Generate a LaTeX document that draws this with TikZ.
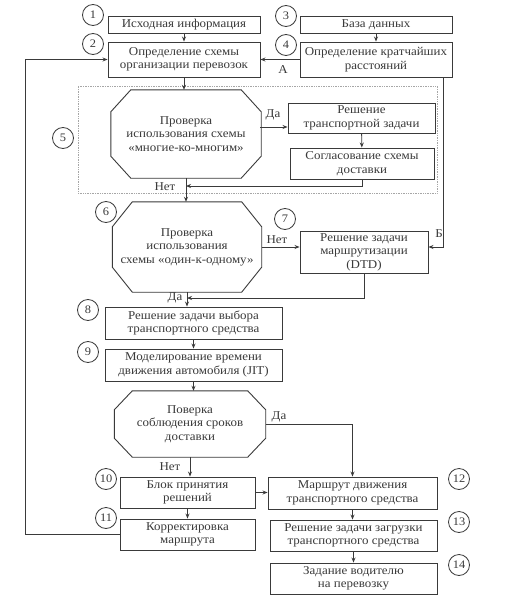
\documentclass[tikz,border=0pt]{standalone}
\usepackage{fontspec}
\setmainfont[FakeStretch=1.08]{Liberation Serif}
\usetikzlibrary{arrows.meta,calc}
\definecolor{ink}{HTML}{3A3A3A}
\newcommand\octdraw[3]{%
  \draw[line] ($(#1.north west)+(#2,0)$) -- ($(#1.north east)+(-#2,0)$) -- ($(#1.north east)+(0,#3)$) -- ($(#1.south east)+(0,-#3)$) -- ($(#1.south east)+(-#2,0)$) -- ($(#1.south west)+(#2,0)$) -- ($(#1.south west)+(0,-#3)$) -- ($(#1.north west)+(0,#3)$) -- cycle;}
\begin{document}
\begin{tikzpicture}[x=1pt,y=-1pt,
  every node/.style={font=\fontsize{12}{13.5}\selectfont, text=ink},
  line/.style={draw=ink, line width=0.9pt},
  arr/.style={line, -{Stealth[length=5pt,width=4pt]}},
  box/.style={draw=ink, line width=0.9pt, align=center, inner sep=1pt},
  oct/.style={align=center, inner sep=1pt},
  num/.style={circle, draw=ink, line width=0.8pt, minimum size=21pt, inner sep=0pt, font=\fontsize{11.5}{12}\selectfont},
  lbl/.style={inner sep=0pt}
]
\useasboundingbox[fill=white] (0,0) rectangle (509,602);
% dotted group 5
\node[draw=gray!70, densely dotted, line width=0.7pt, minimum width=359pt, minimum height=107pt] (g5) at (257.5,139.5) {};
% boxes
\node[box, minimum width=152pt, minimum height=17pt] (b1) at (184,24.5) {Исходная информация};
\node[box, minimum width=152pt, minimum height=17pt] (b3) at (376,24.5) {База данных};
\node[box, minimum width=152pt, minimum height=35pt] (b2) at (184,59.5) {Определение схемы\\организации перевозок};
\node[box, minimum width=152pt, minimum height=35pt] (b4) at (376,59.5) {Определение кратчайших\\расстояний};
\node[oct, minimum width=150pt, minimum height=88pt] (o1) at (186,134) {Проверка\\использования схемы\\«многие-ко-многим»};
\octdraw{o1}{20}{22}
\node[box, minimum width=147pt, minimum height=30pt] (r1) at (361.5,118) {Решение\\транспортной задачи};
\node[box, minimum width=144pt, minimum height=31pt] (s1) at (362,163.5) {Согласование схемы\\доставки};
\node[oct, minimum width=149pt, minimum height=90pt] (o2) at (187,247) {Проверка\\использования\\схемы «один-к-одному»};
\octdraw{o2}{20}{25}
\node[box, minimum width=128pt, minimum height=42pt] (b7) at (364,252) {Решение задачи\\маршрутизации\\(DTD)};
\node[box, minimum width=177pt, minimum height=32pt] (b8) at (193.5,323) {Решение задачи выбора\\транспортного средства};
\node[box, minimum width=177pt, minimum height=32pt] (b9) at (193.5,365) {Моделирование времени\\движения автомобиля (JIT)};
\node[oct, minimum width=151pt, minimum height=66pt] (o3) at (190,424) {Поверка\\соблюдения сроков\\доставки};
\octdraw{o3}{18}{19}
\node[box, minimum width=135pt, minimum height=31pt] (b10) at (187.5,492.5) {Блок принятия\\решений};
\node[box, minimum width=169pt, minimum height=32pt] (b12) at (352.5,493) {Маршрут движения\\транспортного средства};
\node[box, minimum width=135pt, minimum height=31pt] (b11) at (187.5,534.5) {Корректировка\\маршрута};
\node[box, minimum width=167pt, minimum height=31pt] (b13) at (353.5,535.5) {Решение задачи загрузки\\транспортного средства};
\node[box, minimum width=167pt, minimum height=31pt] (b14) at (353.5,578.5) {Задание водителю\\на перевозку};
% number circles
\node[num] (c1) at (93,15) {1};
\node[num] (c2) at (93,44) {2};
\node[num] (c3) at (286,16) {3};
\node[num] (c4) at (286,45) {4};
\node[num] (c5) at (63,138) {5};
\node[num] (c6) at (106,212) {6};
\node[num] (c7) at (285,219) {7};
\node[num] (c8) at (88,310) {8};
\node[num] (c9) at (88,352) {9};
\node[num] (c10) at (106,479) {10};
\node[num] (c11) at (106,518) {11};
\node[num] (c12) at (459,479) {12};
\node[num] (c13) at (459,522) {13};
\node[num] (c14) at (459,565) {14};
% labels
\node[lbl] (la) at (283,70) {А};
\node[lbl] (lb) at (439,234) {Б};
\node[lbl] (lda1) at (273,115) {Да};
\node[lbl] (lnet1) at (165,187) {Нет};
\node[lbl] (lnet2) at (277,240) {Нет};
\node[lbl] (lda2) at (175,298) {Да};
\node[lbl] (lda3) at (279,417) {Да};
\node[lbl] (lnet3) at (170,467) {Нет};
% coordinates
\coordinate (j1) at (186,186);
\coordinate (j2) at (187,298);
\coordinate (bk) at (443,247);
\coordinate (da1) at (260,127);
\coordinate (fb) at (25,534.5);
% connectors
\draw[arr] (b1) -- (b2);
\draw[arr] (b3) -- (b4);
\draw[arr] (b4.west) -- (b4.west -| b2.east);
\draw[arr] (b2.south) -- (b2.south |- o1.north);
\draw[arr] (da1) -- (da1 -| r1.west);
\draw[arr] (r1) -- (s1);
\draw[arr] (s1.south) |- (j1);
\draw[arr] (o1.south) -- (o1.south |- o2.north);
\draw[arr] (o2.east) -- (o2.east -| b7.west);
\draw[arr] (b4.south -| bk) -- (bk) -- (bk -| b7.east);
\draw[arr] (b7.south) |- (j2);
\draw[arr] (o2.south) -- (o2.south |- b8.north);
\draw[arr] (b8.south) -- (b8.south |- b9.north);
\draw[arr] (b9.south) -- (b9.south |- o3.north);
\draw[arr] (o3.east) -| (b12.north);
\draw[arr] (o3.south) -- (o3.south |- b10.north);
\draw[arr] (b10.east) -- (b10.east -| b12.west);
\draw[arr] (b10) -- (b11);
\draw[arr] (b12.south) -- (b12.south |- b13.north);
\draw[arr] (b13) -- (b14);
\draw[arr] (b11.west) -- (fb) |- (b2.west);
\end{tikzpicture}
\end{document}
